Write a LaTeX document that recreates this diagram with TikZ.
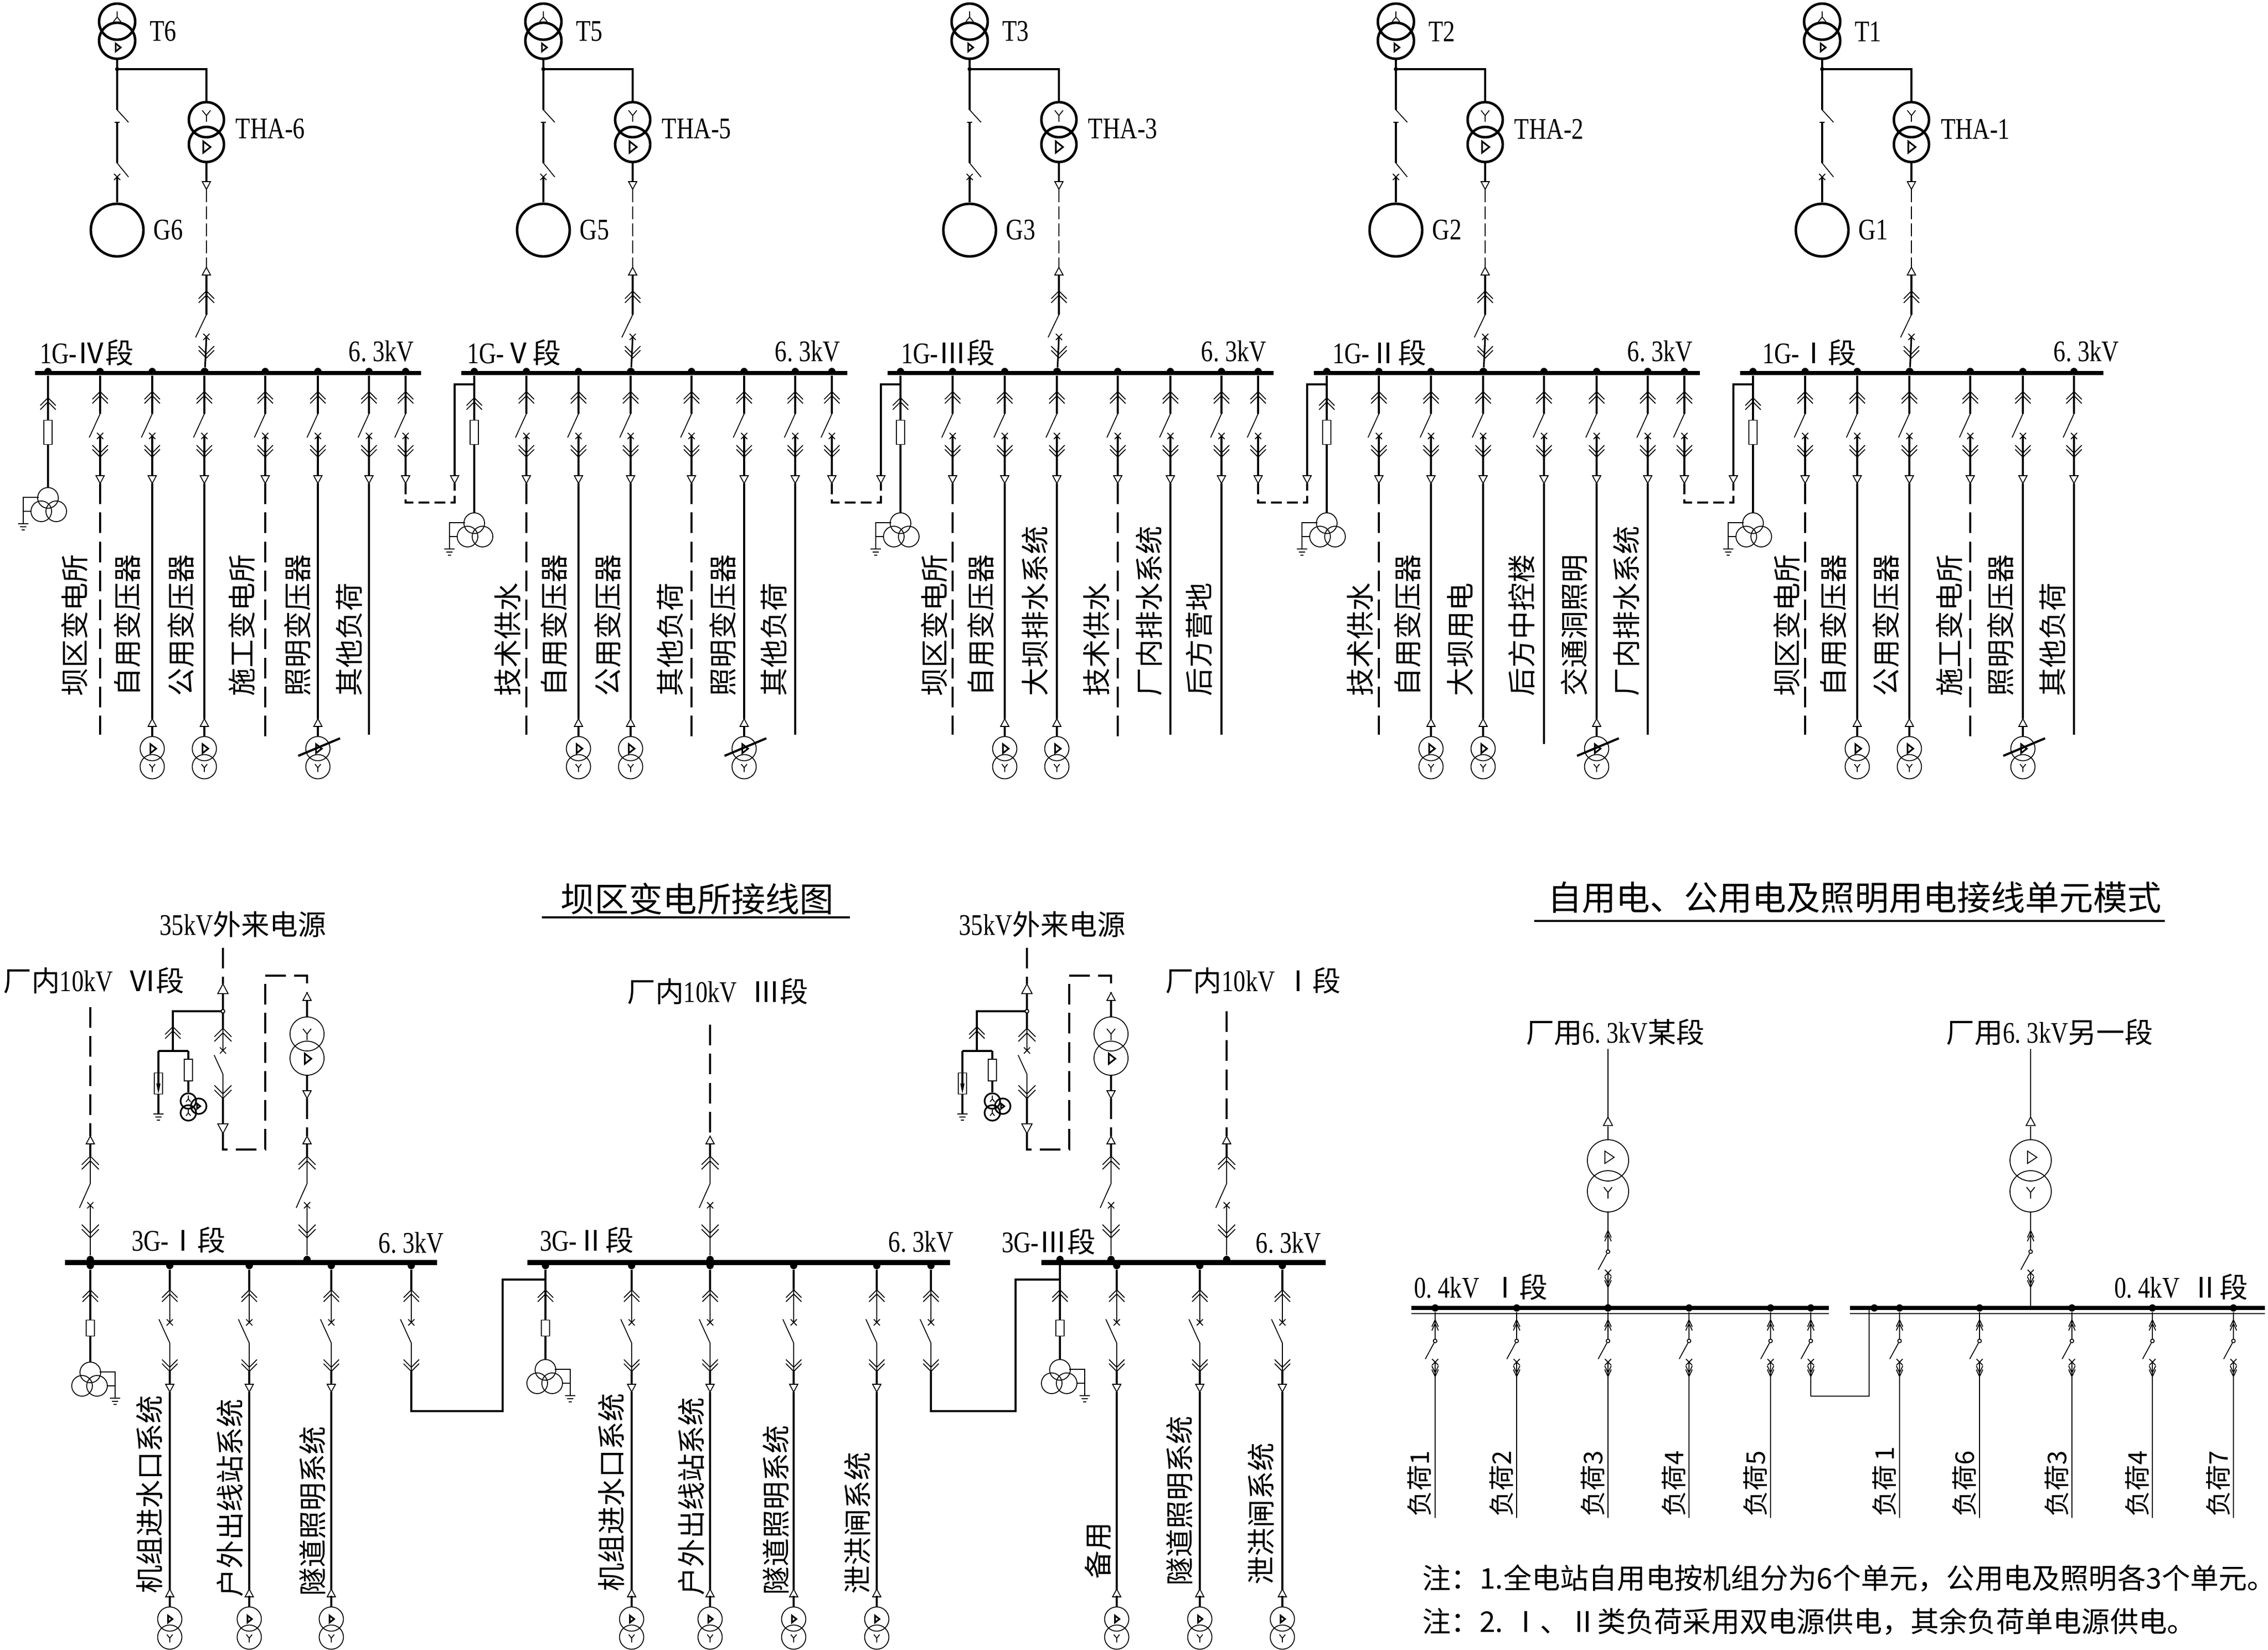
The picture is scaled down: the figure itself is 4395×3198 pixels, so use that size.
\documentclass[tikz,border=0pt]{standalone}
\usepackage{fontspec}
\setmainfont[FakeStretch=0.8]{Liberation Serif}
\newfontfamily\cjk{Noto Sans CJK SC}
\usetikzlibrary{positioning}

\newcommand{\zh}[1]{{\cjk\fontsize{15.6}{18}\selectfont #1}}
\newcommand{\kvlab}{6.\hspace{.2em}3kV}

\tikzset{
  thn/.style={line width=.5pt},
  mid/.style={line width=.9pt},
  thk/.style={line width=1.4pt},
  busbar/.style={line width=2.5pt},
  dashln/.style={line width=1.1pt,dash pattern=on 11.4pt off 4.6pt},
  dashthin/.style={line width=.5pt,dash pattern=on 7pt off 2.4pt},
  lab/.style={inner sep=0pt,font=\fontsize{16.5}{18}\selectfont},
  ttl/.style={inner sep=0pt,font=\cjk\fontsize{18.8}{22}\selectfont},
  vlab/.style={rotate=90,anchor=west,inner sep=0pt,font=\cjk\fontsize{15.6}{18}\selectfont},
  vlabs/.style={rotate=90,anchor=west,inner sep=0pt,font=\cjk\fontsize{14.2}{18}\selectfont},
  note/.style={anchor=west,inner sep=0pt,font=\cjk\fontsize{15.7}{18}\selectfont},
  wind/.style={circle,draw,inner sep=0pt},
  busdot/.style={circle,fill,inner sep=0pt,minimum size=.14cm},
  odot/.style={circle,draw,fill=white,thn,inner sep=0pt,minimum size=.07cm},
  fuse/.style={rectangle,draw,fill=white,thn,inner sep=0pt,minimum width=.16cm}
}

\newcommand{\symchev}[4]{\draw[thn,shift={(#3,#4)},scale=#2,yscale=#1] (-15,15)--(0,0)--(15,15) (-15,23)--(0,8)--(15,23);}
\newcommand{\symchevn}[3]{\draw[thn,shift={(#2,#3)},xscale=.42,yscale=.9*#1] (-15,15)--(0,0)--(15,15) (-15,23)--(0,8)--(15,23);}
\newcommand{\symtri}[4]{\draw[thn,fill=white,shift={(#3,#4)},scale=#2,yscale=#1] (0,0)--(8,15)--(-8,15)--cycle;}
\newcommand{\symx}[2]{\draw[thn,shift={(#1,#2)}] (-6,-6)--(6,6) (-6,6)--(6,-6);}
\newcommand{\symwye}[4]{\draw[thn,shift={(#3,#4)},scale=#2,yscale=#1] (-8,-10)--(0,0)--(8,-10) (0,0)--(0,12);}
\newcommand{\symdlt}[3]{\draw[mid,shift={(#2,#3)},scale=#1] (-7,-11)--(7,0)--(-7,11)--cycle;}
\newcommand{\symearth}[2]{\draw[thn,shift={(#1,#2)}] (-10,0)--(10,0) (-6,6)--(6,6) (-3,12)--(3,12);}

% three winding unit, #4 = side of the earth lead
\newcommand{\auxtr}[4]{
  \node[wind,thn,minimum size=.4cm] (#1u) at (#2,#3) {};
  \begin{scope}[shift={(#2,#3)},xscale=#4]
  \node[wind,thn,minimum size=.4cm] (#1a) at (13,26) {};
  \node[wind,thn,minimum size=.4cm] (#1b) at (-16,26) {};
  \coordinate (#1p) at (18,-1);
  \coordinate (#1q) at (48,-1);
  \coordinate (#1r) at (48,26);
  \coordinate (#1s) at (33,26);
  \coordinate (#1t) at (48,50);
  \draw[thn] (#1p) -- (#1q) -- (#1t) (#1r) -- (#1s);
  \symearth{48}{50}
  \end{scope}
}

% feeder below a 6.3kV bus of the upper row
\newcommand{\fdtop}[2]{
  \node[busdot] (d#1) at (#2,720) {};
  \coordinate (b#1) at (#2,802);
  \coordinate (c#1) at (#2,845);
  \coordinate (o#1) at (#2,922);
  \draw[mid] (d#1) -- (b#1);
  \draw[thn] (b#1) -- ++(-21,46);
  \draw[mid] (c#1) -- (o#1);
  \symx{#2}{845}
  \symchev{1}{1}{#2}{759}
  \symchev{-1}{1}{#2}{886}
  \coordinate (e#1) at (#2,937);
}
\newcommand{\taildd}[3]{
  \coordinate (z#1) at (#2,1424);
  \draw[dashln] (e#1) -- (z#1);
  \symtri{-1}{1}{#2}{937}
  \node[vlab] (n#1) at (#2+\lo,1350) {#3};
}
\newcommand{\taildl}[3]{
  \coordinate (z#1) at (#2,1442);
  \draw[dashln] (e#1) -- (z#1);
  \symtri{-1}{1}{#2}{937}
  \node[vlab] (n#1) at (#2+\lo,1350) {#3};
}
\newcommand{\tailso}[3]{
  \coordinate (z#1) at (#2,1424);
  \draw[mid] (e#1) -- (z#1);
  \symtri{-1}{1}{#2}{937}
  \node[vlab] (n#1) at (#2+\lo,1350) {#3};
}
\newcommand{\tailsl}[3]{
  \coordinate (z#1) at (#2,1442);
  \draw[mid] (e#1) -- (z#1);
  \symtri{-1}{1}{#2}{937}
  \node[vlab] (n#1) at (#2+\lo,1350) {#3};
}
\newcommand{\tailtr}[3]{
  \coordinate (z#1) at (#2,1393);
  \draw[mid] (e#1) -- (z#1);
  \symtri{-1}{1}{#2}{937}
  \symtri{1}{1}{#2}{1393}
  \node[wind,thn,minimum size=.47cm] (u#1) at (#2,1451) {};
  \node[wind,thn,minimum size=.47cm] (l#1) at (#2,1486) {};
  \coordinate (y#1) at (#2,1408);
  \draw[mid] (y#1) -- (u#1);
  \symdlt{.8}{#2+2}{1451}
  \symwye{1}{.7}{#2}{1488}
  \node[vlab] (n#1) at (#2+\lo,1350) {#3};
}
\newcommand{\tailvt}[3]{
  \tailtr{#1}{#2}{#3}
  \coordinate (v#1) at (#2-38,1465);
  \coordinate (w#1) at (#2+43,1431);
  \draw[line width=1.2pt] (v#1) -- (w#1);
}
\newcommand{\taillk}[3]{
  \coordinate (z#1) at (#2,974);
  \coordinate (za#1) at (881,974);
  \coordinate (zb#1) at (881,922);
  \coordinate (zc#1) at (881,745);
  \coordinate (zd#1) at (919,745);
  \draw[line width=1.1pt,dash pattern=on 6pt off 2.8pt] (e#1) -- (z#1) -- (za#1) -- (881,937);
  \draw[mid] (zb#1) -- (zc#1) -- (zd#1);
  \symtri{-1}{1}{#2}{937}
  \symtri{-1}{1}{881}{937}
}

% one generator unit with its section of the upper row
\newcommand{\topsec}[7]{
\begin{scope}[shift={(#6,0)},name prefix=s#1-]
\node[wind,thk,minimum size=.7cm] (tu) at (227,42) {};
\node[wind,thk,minimum size=.7cm] (tl) at (227,79) {};
\symwye{-1}{.9}{227}{33}
\symdlt{.7}{229}{92}
\node[lab] (tlab) at (316,61) {T#1};
\coordinate (jn) at (227,134);
\coordinate (sa) at (227,213);
\coordinate (sb) at (227,237);
\coordinate (sc) at (227,316);
\coordinate (sd) at (227,343);
\draw[mid] (tl) -- (jn) -- (sa);
\draw[thn] (sa) -- ++(22,24);
\draw[mid] (sb) -- (sc);
\draw[thn] (222,237) -- (232,237);
\draw[thn] (sc) -- ++(22,27);
\node[wind,thk,minimum size=1.02cm] (gen) at (227,446) {};
\draw[mid] (sd) -- (gen);
\symx{227}{343}
\node[lab] (glab) at (326,446) {G#1};
\node[wind,thk,minimum size=.68cm] (thu) at (400,232) {};
\node[wind,thk,minimum size=.68cm] (thl) at (400,280) {};
\symwye{1}{1}{400}{224}
\symdlt{1}{401}{285}
\draw[thk] (jn) -| (thu);
\fill (jn) circle[radius=4];
\node[lab] (thlab) at (524,250) {THA-#1};
\coordinate (ta) at (400,352);
\coordinate (tb) at (400,367);
\coordinate (tc) at (400,518);
\coordinate (td) at (400,532);
\coordinate (te) at (400,564);
\coordinate (tf) at (400,610);
\coordinate (tg) at (400,653);
\node[busdot] (tdot) at (397,720) {};
\draw[mid] (thl) -- (ta);
\draw[dashthin] (tb) -- (tc);
\draw[mid] (td) -- (tf);
\draw[thn] (tf) -- ++(-21,44);
\draw[mid] (tg) -- (tdot);
\symtri{-1}{1}{400}{367}
\symtri{1}{1}{400}{518}
\symchev{1}{1}{400}{564}
\symchev{-1}{1}{400}{694}
\symx{400}{653}
\coordinate (bl) at (68,723);
\coordinate (br) at (#5,723);
\draw[busbar] (bl) -- (br);
\node[lab] (blab) at (#4,684) {1G-\zh{#2段}};
\node[lab] (vlab) at (739,681) {\kvlab};
\node[busdot] (fd) at (93,720) {};
\node[fuse,minimum height=.47cm] (fz) at (93,838) {};
\auxtr{ax}{93}{#3}{-1}
\draw[mid] (fd) -- (fz);
\draw[mid] (fz) -- (axu);
\symchev{1}{1}{93}{771}
\foreach \i/\x/\tp/\lo/\txt in {#7} {
  \fdtop{\i}{\x}
  \csname tail\tp\endcsname{\i}{\x}{\txt}
}
\end{scope}
}

% feeder below a 6.3kV bus of the lower row
\newcommand{\fdbot}[2]{
  \node[busdot] (d#1) at (#2,2453) {};
  \coordinate (c#1) at (#2,2563);
  \coordinate (b#1) at (#2,2603);
  \coordinate (e#1) at (#2,2658);
  \draw[thk] (d#1) -- (#2,2500);
  \draw[thn] (#2,2500) -- (c#1);
  \draw[thn] (b#1) -- ++(-21,-46);
  \draw[thn] (b#1) -- (e#1);
  \symx{#2}{2563}
  \symchev{1}{1}{#2}{2500}
  \symchev{-1}{1}{#2}{2658}
}
\newcommand{\botload}[5]{
  \fdbot{#1}{#2}
  \coordinate (t#1) at (#2,2685);
  \coordinate (r#1) at (#2,2698);
  \coordinate (q#1) at (#2,3093);
  \draw[mid] (e#1) -- (t#1);
  \draw[thk] (r#1) -- (q#1);
  \symtri{-1}{1}{#2}{2698}
  \symtri{1}{1}{#2}{3080}
  \node[wind,thn,minimum size=.47cm] (u#1) at (#2,3138) {};
  \node[wind,thn,minimum size=.47cm] (l#1) at (#2,3173) {};
  \draw[thk] (q#1) -- (u#1);
  \symdlt{.6}{#2+1}{3138}
  \symwye{1}{.7}{#2}{3175}
  \node[vlab] (n#1) at (#3,#4) {#5};
}
% feeder above a 6.3kV bus of the lower row
\newcommand{\fdup}[3]{
  \coordinate (a#1) at (#2,#3);
  \coordinate (f#1) at (#2,2202);
  \coordinate (g#1) at (#2,2217);
  \coordinate (h#1) at (#2,2241);
  \coordinate (k#1) at (#2,2294);
  \coordinate (m#1) at (#2,2336);
  \node[busdot] (d#1) at (#2,2441) {};
  \draw[dashln] (a#1) -- (f#1);
  \draw[thk] (g#1) -- (h#1);
  \draw[thn] (h#1) -- (k#1);
  \draw[thn] (k#1) -- ++(-21,47);
  \draw[thn] (m#1) -- (d#1);
  \symtri{1}{1}{#2}{2202}
  \symchev{1}{1.1}{#2}{2241}
  \symchev{-1}{1.1}{#2}{2399}
  \symx{#2}{2336}
}
\newcommand{\auxsmall}[3]{
  \node[wind,mid,minimum size=.3cm] (#1a) at (#2,#3) {};
  \node[wind,mid,minimum size=.3cm] (#1b) at (#2,#3+23) {};
  \node[wind,mid,minimum size=.3cm] (#1c) at (#2+20,#3+10) {};
  \symwye{-1}{.55}{#2}{#3-4}
  \symwye{-1}{.55}{#2}{#3+23}
  \symdlt{.45}{#2+20}{#3+10}
}
% the 35kV incoming block with its transformer
\newcommand{\extblock}[1]{
\begin{scope}[shift={(#1,0)},name prefix=e#1-]
\coordinate (ea) at (432,1837);
\coordinate (eb) at (432,1907);
\coordinate (ec) at (432,1924);
\node[odot] (ed) at (432,1960) {};
\coordinate (ee) at (432,1993);
\coordinate (ef) at (432,2036);
\coordinate (eg) at (432,2082);
\coordinate (eh) at (432,2129);
\coordinate (ei) at (432,2197);
\coordinate (ej) at (432,2228);
\coordinate (ek) at (514,2228);
\coordinate (el) at (514,1891);
\coordinate (em) at (595,1891);
\coordinate (en) at (595,1924);
\draw[dashln] (ea) -- (eb);
\draw[mid] (ec) -- (ed);
\draw[mid] (ed) -- (ee);
\draw[thn] (ee) -- (ef);
\draw[thn] (eg) -- ++(-17,-37);
\draw[thn] (eg) -- (eh);
\draw[mid] (eh) -- (ei);
\draw[dashln] (ei) -- (ej) -- (ek) -- (el) -- (em) -- (en);
\symtri{1}{1.25}{432}{1907}
\symtri{-1}{1.25}{432}{2197}
\symchev{1}{1.1}{432}{1993}
\symchev{-1}{1.1}{432}{2129}
\symx{432}{2036}
\node[odot] (edd) at (432,1960) {};
% branch to the potential transformer
\coordinate (ba) at (335,1960);
\coordinate (bb) at (335,1990);
\coordinate (bc) at (335,2037);
\coordinate (bd) at (307,2037);
\coordinate (be) at (365,2037);
\coordinate (bf) at (307,2159);
\node[fuse,minimum height=.41cm] (bg) at (307,2100) {};
\node[fuse,minimum height=.42cm] (bh) at (365,2074) {};
\draw[mid] (ed) -- (ba) -- (bb);
\draw[mid] (bb) -- (bc);
\draw[thk] (bd) -- (be);
\draw[mid] (bd) -- (bg);
\draw[mid] (bg) -- (bf);
\draw[thk] (be) -- (bh);
\auxsmall{px}{365}{2134}
\draw[thk] (bh) -- (pxa);
\draw[mid] (307,2080) -- (307,2112);
\fill (303,2100) -- (311,2100) -- (307,2120) -- cycle;
\symchev{1}{1}{335}{1990}
\symearth{307}{2159}
% station transformer
\node[wind,thn,minimum size=.66cm] (tu) at (595,2004) {};
\node[wind,thn,minimum size=.66cm] (tl) at (595,2051) {};
\coordinate (ta) at (595,1939);
\coordinate (tb) at (595,2114);
\draw[thk] (ta) -- (tu);
\draw[thk] (tl) -- (tb);
\symtri{1}{1}{595}{1924}
\symtri{-1}{1}{595}{2129}
\symwye{1}{1}{595}{2004}
\symdlt{.9}{597}{2052}
\fdup{t}{595}{2129}
\end{scope}
}
% low voltage feeder with its open contact
\newcommand{\lvsw}[5]{
  \node[odot] (o#1) at (#2,#3+41) {};
  \coordinate (c#1) at (#2,#3+82);
  \draw[thn] (#4) -- (o#1);
  \draw[thn] (o#1) -- ++(-19,35);
  \draw[thn] (c#1) -- (#5);
  \symx{#2}{#3+82}
  \symchevn{1}{#2}{#3}
  \symchevn{-1}{#2}{#3+110}
}

\begin{document}
\begin{tikzpicture}[x=0.01cm,y=-0.01cm]
\useasboundingbox (0,0) rectangle (4395,3198);

\topsec{6}{Ⅳ}{965}{168}{816}{0}{1/194/dd/-50/坝区变电所,2/295/tr/-48/自用变压器,3/396/tr/-45/公用变压器,4/514/dl/-46/施工变电所,5/616/vt/-39/照明变压器,6/715/so/-38/其他负荷,7/786/lk/0/}
\topsec{5}{Ⅴ}{1014}{170}{816}{826}{1/194/dd/-36/技术供水,2/295/tr/-47/自用变压器,3/396/tr/-44/公用变压器,4/514/dl/-41/其他负荷,5/616/vt/-41/照明变压器,6/715/so/-41/其他负荷,7/786/lk/0/}
\topsec{3}{Ⅲ}{1014}{185}{816}{1652}{1/194/dd/-36/坝区变电所,2/295/tr/-46/自用变压器,3/396/tr/-42/大坝排水系统,4/514/dl/-41/技术供水,5/616/so/-41/厂内排水系统,6/715/so/-43/后方营地,7/786/lk/0/}
\topsec{2}{Ⅱ}{1014}{195}{816}{2478}{1/194/dd/-36/技术供水,2/295/tr/-45/自用变压器,3/396/tr/-44/大坝用电,4/514/sl/-43/后方中控楼,5/616/vt/-43/交通洞照明,6/715/so/-41/厂内排水系统,7/786/lk/0/}
\topsec{1}{Ⅰ}{1014}{202}{772}{3304}{1/194/dd/-36/坝区变电所,2/295/tr/-46/自用变压器,3/396/tr/-45/公用变压器,4/514/dl/-41/施工变电所,5/616/vt/-43/照明变压器,6/715/so/-41/其他负荷}

% lower left, three sections
\node[ttl] (title1) at (1351,1742) {坝区变电所接线图};
\coordinate (ula) at (1050,1778);
\coordinate (ulb) at (1647,1778);
\draw[thk] (ula) -- (ulb);

\extblock{0}
\extblock{1558}
\node[lab] (ext1) at (471,1792) {35kV\zh{外来电源}};
\node[lab] (ext2) at (2020,1792) {35kV\zh{外来电源}};

\coordinate (b1l) at (126,2447);
\coordinate (b1r) at (847,2447);
\coordinate (b2l) at (1022,2447);
\coordinate (b2r) at (1841,2447);
\coordinate (b3l) at (2018,2447);
\coordinate (b3r) at (2569,2447);
\draw[line width=2.6pt] (b1l) -- (b1r);
\draw[line width=2.6pt] (b2l) -- (b2r);
\draw[line width=2.6pt] (b3l) -- (b3r);
\node[lab] (bl1) at (346,2404) {3G-\zh{Ⅰ段}};
\node[lab] (bv1) at (797,2409) {\kvlab};
\node[lab] (bl2) at (1137,2404) {3G-\zh{Ⅱ段}};
\node[lab] (bv2) at (1785,2407) {\kvlab};
\node[lab] (bl3) at (2032,2407) {3G-\zh{Ⅲ段}};
\node[lab] (bv3) at (2497,2409) {\kvlab};

\fdup{u1}{175}{1952}
\fdup{u2}{1376}{1986}
\fdup{u3}{2377}{1960}
\node[lab] (in1) at (182,1901) {\zh{厂内}10kV\hspace{.5em}\zh{Ⅵ段}};
\node[lab] (in2) at (1391,1922) {\zh{厂内}10kV\hspace{.5em}\zh{Ⅲ段}};
\node[lab] (in3) at (2428,1901) {\zh{厂内}10kV\hspace{.3em}\zh{Ⅰ段}};

\foreach \k/\x/\lx/\ly/\txt in {a1/329/290/3089/机组进水口系统,a2/483/446/3096/户外出线站系统,a3/642/606/3094/隧道照明系统,b1/1224/1185/3085/机组进水口系统,b2/1376/1340/3093/户外出线站系统,b3/1538/1504/3092/隧道照明系统,b4/1699/1662/3090/泄洪闸系统,c1/2164/2128/3061/备用,c2/2325/2286/3074/隧道照明系统,c3/2485/2444/3072/泄洪闸系统} {
  \botload{\k}{\x}{\lx}{\ly}{\txt}
}

\foreach \k/\x/\y in {w1/175/2453,w2/1057/2453,w3/2054/2441} {
  \node[busdot] (d\k) at (\x,\y) {};
  \node[fuse,minimum height=.31cm] (f\k) at (\x,2574) {};
  \draw[mid] (d\k) -- (f\k);
  \symchev{1}{1}{\x}{2500}
}
\auxtr{tr1}{175}{2660}{1}
\auxtr{tr2}{1057}{2655}{1}
\auxtr{tr3}{2054}{2655}{1}
\draw[mid] (fw1) -- (tr1u);
\draw[mid] (fw2) -- (tr2u);
\draw[mid] (fw3) -- (tr3u);

\fdbot{k1}{797}
\fdbot{k2}{1804}
\coordinate (k1a) at (797,2735);
\coordinate (k1b) at (974,2735);
\coordinate (k1c) at (974,2480);
\coordinate (k1d) at (1057,2480);
\coordinate (k2a) at (1804,2735);
\coordinate (k2b) at (1968,2735);
\coordinate (k2c) at (1968,2480);
\coordinate (k2d) at (2054,2480);
\draw[mid] (ek1) -- (k1a) -- (k1b) -- (k1c) -- (k1d);
\draw[mid] (ek2) -- (k2a) -- (k2b) -- (k2c) -- (k2d);

% lower right, low voltage unit
\node[ttl] (title2) at (3594,1740) {自用电、公用电及照明用电接线单元模式};
\coordinate (urb) at (4195,1785);
\coordinate (ura) at (2973,1785);
\draw[mid] (ura) -- (urb);
\node[lab] (src1) at (3130,2001) {\zh{厂用}6.\hspace{.2em}3kV\zh{某段}};
\node[lab] (src2) at (3972,2001) {\zh{厂用}6.\hspace{.2em}3kV\zh{另一段}};

\foreach \k/\x in {i1/3116,i2/3935} {
  \coordinate (t\k) at (\x,2033);
  \coordinate (p\k) at (\x,2165);
  \coordinate (q\k) at (\x,2183);
  \coordinate (r\k) at (\x,2385);
  \coordinate (s\k) at (\x,2535);
  \node[wind,thn,minimum size=.8cm] (u\k) at (\x,2249) {};
  \node[wind,thn,minimum size=.8cm] (l\k) at (\x,2309) {};
  \draw[thn] (t\k) -- (p\k);
  \draw[thn] (q\k) -- (u\k);
  \draw[thn] (l\k) -- (r\k);
  \lvsw{\k}{\x}{2385}{r\k}{s\k}
  \symtri{1}{1.1}{\x}{2165}
  \symwye{1}{1}{\x}{2311}
  \draw[thn,shift={(\x+3,2243)}] (-9,-12)--(9,0)--(-9,12)--cycle;
}
\coordinate (lv1l) at (2735,2535);
\coordinate (lv1r) at (3544,2535);
\coordinate (lv2l) at (3585,2535);
\coordinate (lv2r) at (4389,2535);
\coordinate (lv3l) at (2735,2546);
\coordinate (lv3r) at (3544,2546);
\coordinate (lv4l) at (3585,2546);
\coordinate (lv4r) at (4389,2546);
\draw[line width=2.2pt] (lv1l) -- (lv1r);
\draw[line width=2.2pt] (lv2l) -- (lv2r);
\draw[thn] (lv3l) -- (lv3r);
\draw[thn] (lv4l) -- (lv4r);
\node[lab] (lvl1) at (2870,2495) {0.\hspace{.2em}4kV\hspace{.4em}\zh{Ⅰ段}};
\node[lab] (lvl2) at (4227,2495) {0.\hspace{.2em}4kV\hspace{.4em}\zh{Ⅱ段}};
\node[busdot] (ld0) at (3116,2535) {};
\node[busdot] (ld9) at (3632,2535) {};

\foreach \k/\x/\txt in {c1/2781/负荷1,c2/2939/负荷2,c3/3116/负荷3,c4/3273/负荷4,c5/3431/负荷5,c6/3681/负荷\,1,c7/3836/负荷6,c8/4015/负荷3,c9/4171/负荷4,c10/4328/负荷7} {
  \node[busdot] (ld\k) at (\x,2535) {};
  \coordinate (la\k) at (\x,2558);
  \coordinate (lb\k) at (\x,2942);
  \draw[thn] (ld\k) -- (la\k);
  \lvsw{\k}{\x}{2558}{la\k}{lb\k}
  \node[vlabs] (lt\k) at (\x-30,2940) {\txt};
}
\node[busdot] (ldk) at (3509,2535) {};
\coordinate (lka) at (3509,2558);
\coordinate (lkb) at (3509,2706);
\coordinate (lkc) at (3622,2706);
\coordinate (lkd) at (3622,2535);
\draw[thn] (ldk) -- (lka);
\lvsw{k}{3509}{2558}{lka}{lkb}
\draw[thn] (lkb) -- (lkc) -- (lkd);

\node[note] (note1) at (2756,3059) {注：1.全电站自用电按机组分为6个单元，公用电及照明各3个单元。};
\node[note] (note2) at (2756,3143) {注：2. Ⅰ、Ⅱ类负荷采用双电源供电，其余负荷单电源供电。};
\end{tikzpicture}
\end{document}
